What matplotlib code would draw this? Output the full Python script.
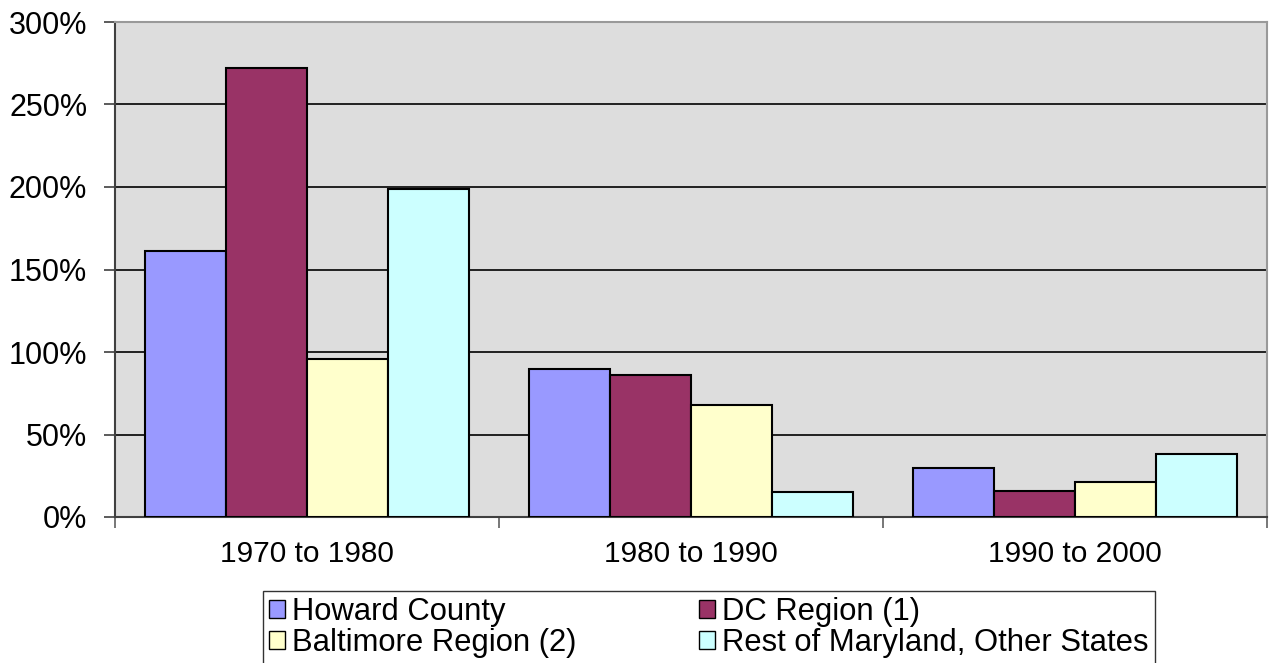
import matplotlib
matplotlib.use("Agg")
import matplotlib.pyplot as plt
import numpy as np
from matplotlib.ticker import FixedLocator, PercentFormatter

categories = ["1970 to 1980", "1980 to 1990", "1990 to 2000"]
series_names = ["Howard County", "DC Region (1)", "Baltimore Region (2)",
                "Rest of Maryland, Other States"]
howard = [161, 90, 30]
dc_region = [272, 86, 16]
baltimore = [96, 68, 21]
rest_md = [199, 15, 38]
y_ticks = [0, 50, 100, 150, 200, 250, 300]

colors = ["#9999FF", "#993366", "#FFFFCC", "#CCFFFF"]
values = [howard, dc_region, baltimore, rest_md]

plt.rcParams['font.family'] = ['Liberation Sans', 'DejaVu Sans']

fig = plt.figure(figsize=(12.7, 6.63), dpi=100)
ax = fig.add_axes([115/1270, 1-517/663, (1267-115)/1270, (517-22)/663])
ax.set_facecolor("#DDDDDD")

x = np.arange(len(categories))
bw = 1/(4+0.75)
handles = []
for i, (vals, c) in enumerate(zip(values, colors)):
    b = ax.bar(x + (i-1.5)*bw, vals, width=bw, color=c, edgecolor="black",
               linewidth=1.5, zorder=3, label=series_names[i])
    handles.append(b)

ax.set_xlim(-0.5, 2.5)
ax.set_ylim(0, 300)
ax.yaxis.set_major_locator(FixedLocator(y_ticks))
ax.yaxis.set_major_formatter(PercentFormatter(decimals=0))
ax.grid(axis="y", color="black", linewidth=1.2, zorder=1)
ax.set_axisbelow(True)

ax.set_xticks([-0.5, 0.5, 1.5, 2.5])
ax.set_xticklabels([])
ax.set_xticks(x, minor=True)
ax.set_xticklabels(categories, minor=True, fontsize=21.5)
ax.tick_params(axis="x", which="major", length=8, width=1.2, color="#606060", direction="out")
ax.tick_params(axis="x", which="minor", length=0, pad=16.5)
ax.tick_params(axis="y", length=8, width=1.2, color="#404040", direction="out", labelsize=22, pad=12)

for s in ["top", "right"]:
    ax.spines[s].set_color("#999999")
    ax.spines[s].set_linewidth(1.5)
ax.spines["left"].set_color("#404040")
ax.spines["left"].set_linewidth(1.5)
ax.spines["bottom"].set_color("#404040")
ax.spines["bottom"].set_linewidth(1.5)

order = [0, 2, 1, 3]
leg = fig.legend(handles=[handles[i] for i in order],
                 labels=[series_names[i] for i in order], ncol=2,
                 loc="upper left", bbox_to_anchor=(263/1270, 1-591/663),
                 frameon=True, fancybox=False, edgecolor="black",
                 fontsize=22.3, handlelength=0.5, handleheight=0.5,
                 handletextpad=0.25, columnspacing=3.95, borderpad=0.2,
                 labelspacing=0.02, borderaxespad=0)
leg.get_frame().set_linewidth(1.0)
for h in leg.legend_handles:
    h.set_linewidth(1.0)

fig.savefig("out.png", dpi=100)
